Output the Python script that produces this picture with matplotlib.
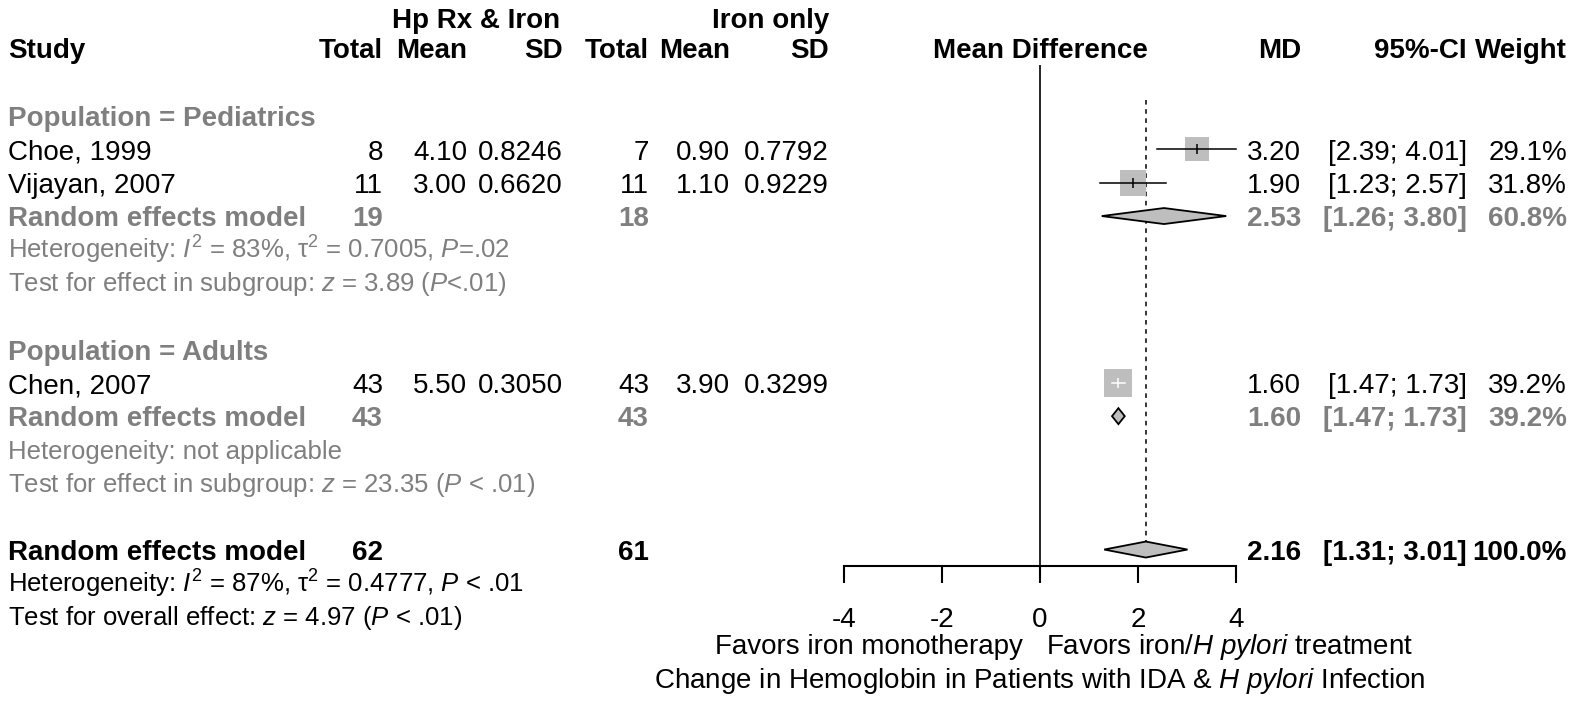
import matplotlib
matplotlib.use("Agg")
import matplotlib.pyplot as plt
from matplotlib.patches import Polygon
from matplotlib.transforms import blended_transform_factory

plt.rcParams['font.family'] = ['Liberation Sans', 'DejaVu Sans']
plt.rcParams['mathtext.fontset'] = 'custom'
plt.rcParams['mathtext.rm'] = 'Liberation Sans'
plt.rcParams['mathtext.it'] = 'Liberation Sans:italic'
plt.rcParams['mathtext.bf'] = 'Liberation Sans:bold'
plt.rcParams['axes.unicode_minus'] = False

# study data
studies = ['Choe, 1999', 'Vijayan, 2007', 'Chen, 2007']
n_e = [8, 11, 43]
mean_e = [4.10, 3.00, 5.50]
sd_e = [0.8246, 0.6620, 0.3050]
n_c = [7, 11, 43]
mean_c = [0.90, 1.10, 3.90]
sd_c = [0.7792, 0.9229, 0.3299]
md = [3.20, 1.90, 1.60]
ci_lo = [2.39, 1.23, 1.47]
ci_hi = [4.01, 2.57, 1.73]
weight = [29.1, 31.8, 39.2]

# subgroups
groups = ['Pediatrics', 'Adults']
sub_ne = [19, 43]
sub_nc = [18, 43]
sub_md = [2.53, 1.60]
sub_lo = [1.26, 1.47]
sub_hi = [3.80, 1.73]
sub_w = [60.8, 39.2]
sub_het = ['Heterogeneity: $I^2$ = 83%, $\\mathrm{\\tau}^2$ = 0.7005, $P$=.02',
           'Heterogeneity: not applicable']
sub_test = ['Test for effect in subgroup: $z$ = 3.89 ($P$<.01)',
            'Test for effect in subgroup: $z$ = 23.35 ($P$ < .01)']

# overall
tot_ne, tot_nc = 62, 61
tot_md, tot_lo, tot_hi, tot_w = 2.16, 1.31, 3.01, 100.0
tot_het = 'Heterogeneity: $I^2$ = 87%, $\\mathrm{\\tau}^2$ = 0.4777, $P$ < .01'
tot_test = 'Test for overall effect: $z$ = 4.97 ($P$ < .01)'

xticks = [-4, -2, 0, 2, 4]

# rows (one unit = one text line)
study_rows = [1, 2, 8]
group_rows = [0, 7]
sub_rows = [3, 9]
tot_row = 13

GRAY = '#7f7f7f'
BOX = '#bebebe'
FS = 20
FS_HET = 18.5

# column right edges in pixels
X_NE, X_ME, X_SE = 383, 467, 563
X_NC, X_MC, X_SC = 649, 730, 829
X_MD, X_CI, X_W = 1301, 1467, 1567

W, H = 1575, 704
fig = plt.figure(figsize=(W / 100, H / 100), dpi=100)

# forest panel: x from -4 to 4, bottom spine is the x axis
row_px, row0_px = 33.35, 116
axis_px = 565.7
ax = fig.add_axes([844 / W, 1 - axis_px / H, 392 / W, axis_px / H])
ax.set_xlim(-4, 4)
ax.set_ylim((axis_px - row0_px) / row_px, -row0_px / row_px)
for s in ['top', 'left', 'right']:
    ax.spines[s].set_visible(False)
ax.spines['bottom'].set_linewidth(1.5)
ax.set_yticks([])
ax.set_xticks(xticks)
ax.tick_params(axis='x', length=12.5, width=1.5, pad=17, labelsize=FS)

tr = blended_transform_factory(fig.transFigure, ax.transData)


def txt(xpx, row, s, ha='right', bold=False, color='black', size=FS):
    ax.text(xpx / W, row + 0.31, s, transform=tr, ha=ha, va='baseline',
            fontsize=size, fontweight='bold' if bold else 'normal', color=color)


# reference lines
ax.vlines(0, -1.53, (axis_px - row0_px) / row_px, color='black', lw=1.2, clip_on=False)
ax.vlines(tot_md, -0.48, tot_row - 0.25, color='black', lw=1.1,
          linestyles=(0, (3, 3)), clip_on=False)

# study squares and CIs
for i in range(len(studies)):
    r = study_rows[i]
    side = 4.55 * weight[i] ** 0.5 * 0.72
    ax.scatter(md[i], r, s=side ** 2, marker='s', color=BOX, lw=0, zorder=2, clip_on=False)
    inside = (ci_hi[i] - ci_lo[i]) * 49 < 4.55 * weight[i] ** 0.5
    c = 'white' if inside else 'black'
    ax.plot([ci_lo[i], ci_hi[i]], [r, r], color=c, lw=1.1, zorder=3, clip_on=False)
    ax.scatter(md[i], r, s=60, marker='|', color=c, lw=1.1, zorder=3, clip_on=False)


def diamond(m, lo, hi, r):
    ax.add_patch(Polygon([(lo, r), (m, r - 0.24), (hi, r), (m, r + 0.24)],
                         closed=True, facecolor=BOX, edgecolor='black', lw=1.3,
                         zorder=3, clip_on=False))


for g in range(len(groups)):
    diamond(sub_md[g], sub_lo[g], sub_hi[g], sub_rows[g])
diamond(tot_md, tot_lo, tot_hi, tot_row)

# headers
txt(476, -2.94, 'Hp Rx & Iron', ha='center', bold=True)
txt(X_SC, -2.94, 'Iron only', bold=True)
hdr = [(8, 'Study', 'left'), (X_NE, 'Total', 'right'), (X_ME, 'Mean', 'right'),
       (X_SE, 'SD', 'right'), (X_NC, 'Total', 'right'), (X_MC, 'Mean', 'right'),
       (X_SC, 'SD', 'right'), (1040, 'Mean Difference', 'center'),
       (X_MD, 'MD', 'right'), (X_CI, '95%-CI', 'right'), (X_W, 'Weight', 'right')]
for x, s, ha in hdr:
    txt(x, -2.04, s, ha=ha, bold=True)

# study rows
for i in range(len(studies)):
    r = study_rows[i]
    txt(8, r, studies[i], ha='left')
    txt(X_NE, r, str(n_e[i]))
    txt(X_ME, r, f'{mean_e[i]:.2f}')
    txt(X_SE, r, f'{sd_e[i]:.4f}')
    txt(X_NC, r, str(n_c[i]))
    txt(X_MC, r, f'{mean_c[i]:.2f}')
    txt(X_SC, r, f'{sd_c[i]:.4f}')
    txt(X_MD, r, f'{md[i]:.2f}')
    txt(X_CI, r, f'[{ci_lo[i]:.2f}; {ci_hi[i]:.2f}]')
    txt(X_W, r, f'{weight[i]:.1f}%')

# subgroup rows
for g in range(len(groups)):
    txt(8, group_rows[g], 'Population = ' + groups[g], ha='left', bold=True, color=GRAY)
    r = sub_rows[g]
    txt(8, r, 'Random effects model', ha='left', bold=True, color=GRAY)
    txt(X_NE, r, str(sub_ne[g]), bold=True, color=GRAY)
    txt(X_NC, r, str(sub_nc[g]), bold=True, color=GRAY)
    txt(X_MD, r, f'{sub_md[g]:.2f}', bold=True, color=GRAY)
    txt(X_CI, r, f'[{sub_lo[g]:.2f}; {sub_hi[g]:.2f}]', bold=True, color=GRAY)
    txt(X_W, r, f'{sub_w[g]:.1f}%', bold=True, color=GRAY)
    txt(8, r + 0.97, sub_het[g], ha='left', color=GRAY, size=FS_HET)
    txt(8, r + 1.95, sub_test[g], ha='left', color=GRAY, size=FS_HET)

# overall
txt(8, tot_row, 'Random effects model', ha='left', bold=True)
txt(X_NE, tot_row, str(tot_ne), bold=True)
txt(X_NC, tot_row, str(tot_nc), bold=True)
txt(X_MD, tot_row, f'{tot_md:.2f}', bold=True)
txt(X_CI, tot_row, f'[{tot_lo:.2f}; {tot_hi:.2f}]', bold=True)
txt(X_W, tot_row, f'{tot_w:.1f}%', bold=True)
txt(8, tot_row + 0.97, tot_het, ha='left', size=FS_HET)
txt(8, tot_row + 1.95, tot_test, ha='left', size=FS_HET)

# axis labels
txt(1023, 15.83, 'Favors iron monotherapy')
txt(1046, 15.83, 'Favors iron/$\\mathit{H\\ pylori}$ treatment', ha='left')
txt(1040, 16.85, 'Change in Hemoglobin in Patients with IDA & $\\mathit{H\\ pylori}$ Infection',
    ha='center')

fig.savefig('out.png', dpi=100)
